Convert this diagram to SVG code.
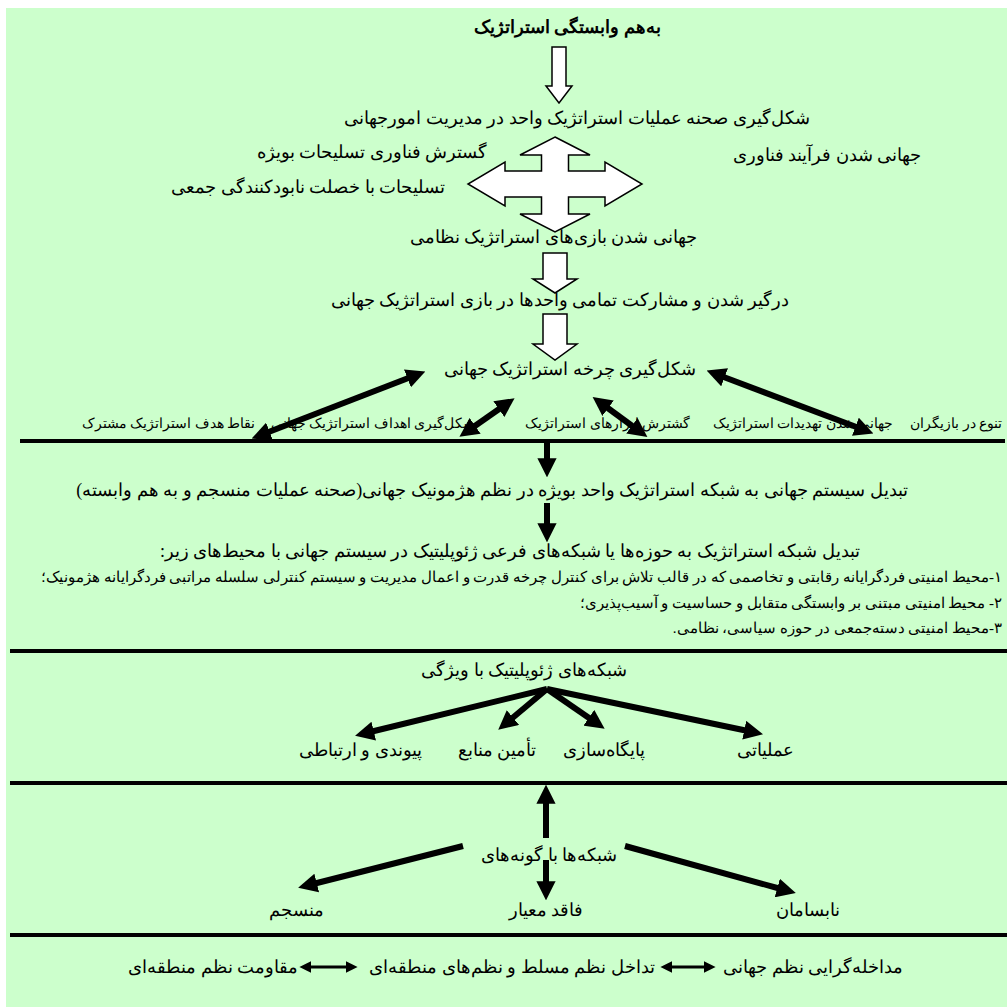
<svg xmlns="http://www.w3.org/2000/svg" width="1007" height="1007" viewBox="0 0 1007 1007">
<defs>
<style>
text{font-family:"Liberation Serif","DejaVu Serif",serif;fill:#000;direction:rtl}
.t{font-size:18px;text-anchor:middle}
.b{font-size:18px;font-weight:bold;text-anchor:middle}
.s{font-size:14px;text-anchor:start}
.l{font-size:15px;text-anchor:start}
.sep{stroke:#000;stroke-width:4}
.hol{fill:#fff;stroke:#000;stroke-width:1.5}
.ar{stroke:#000;stroke-width:6;fill:none}
.ar2{stroke:#000;stroke-width:3;fill:none}
</style>
<marker id="h" viewBox="0 0 10 10" refX="2" refY="5" markerWidth="3.2" markerHeight="3.2" orient="auto-start-reverse" markerUnits="strokeWidth"><path d="M0,0 L10,5 L0,10 z" fill="#000"/></marker>
<marker id="hs" viewBox="0 0 10 10" refX="2" refY="5" markerWidth="4" markerHeight="4" orient="auto-start-reverse" markerUnits="strokeWidth"><path d="M0,0 L10,5 L0,10 z" fill="#000"/></marker>
</defs>
<rect x="6" y="8" width="1001" height="999" fill="#ccffcc"/>

<g id="separators">
<line class="sep" x1="20" y1="441" x2="1005" y2="441"/>
<line class="sep" x1="10" y1="651" x2="1007" y2="651"/>
<line class="sep" x1="10" y1="783" x2="1007" y2="783"/>
<line class="sep" x1="10" y1="935" x2="1007" y2="935"/>
</g>

<g id="connectors">
<polygon class="hol" points="552,47 566,47 566,86 572,86 559,103 546,86 552,86"/>
<polygon class="hol" points="555,137 590,155 568.5,155 568.5,171 605,171 605,162 642,184 605,206 605,197 568.5,197 568.5,214 590,214 555,232 520,214 541.5,214 541.5,197 505,197 505,206 468,184 505,162 505,171 541.5,171 541.5,155 520,155"/>
<polygon class="hol" points="543,253 567,253 567,279 577,279 555,293 533,279 543,279"/>
<polygon class="hol" points="543,314 567,314 567,344 577,344 555,360 533,344 543,344"/>
<line class="ar" x1="266" y1="433" x2="411" y2="377" marker-start="url(#h)" marker-end="url(#h)"/>
<line class="ar" x1="472" y1="428" x2="502" y2="407" marker-start="url(#h)" marker-end="url(#h)"/>
<line class="ar" x1="605" y1="406" x2="635" y2="428" marker-start="url(#h)" marker-end="url(#h)"/>
<line class="ar" x1="721" y1="376" x2="859" y2="428" marker-start="url(#h)" marker-end="url(#h)"/>
<line class="ar" x1="547" y1="443" x2="547" y2="462" marker-end="url(#h)"/>
<line class="ar" x1="547" y1="503" x2="547" y2="527" marker-end="url(#h)"/>
<line class="ar" x1="547" y1="689" x2="370" y2="732" marker-end="url(#h)"/>
<line class="ar" x1="547" y1="689" x2="510" y2="720" marker-end="url(#h)"/>
<line class="ar" x1="547" y1="689" x2="592" y2="720" marker-end="url(#h)"/>
<line class="ar" x1="547" y1="689" x2="748" y2="731" marker-end="url(#h)"/>
<line class="ar" x1="546" y1="838" x2="546" y2="800" marker-end="url(#h)"/>
<line class="ar" x1="463" y1="846" x2="313" y2="884" marker-end="url(#h)"/>
<line class="ar" x1="546" y1="860" x2="546" y2="885" marker-end="url(#h)"/>
<line class="ar" x1="625" y1="846" x2="781" y2="889" marker-end="url(#h)"/>
<line class="ar2" x1="670" y1="967" x2="706" y2="967" marker-start="url(#hs)" marker-end="url(#hs)"/>
<line class="ar2" x1="309" y1="967" x2="348" y2="967" marker-start="url(#hs)" marker-end="url(#hs)"/>
</g>

<g id="n-title"><text class="b" x="567" y="33">به&#8204;هم وابستگی استراتژیک</text></g>
<g id="n-scene"><text class="t" x="577" y="124">شکل&#8204;گیری صحنه عملیات استراتژیک واحد در مدیریت امورجهانی</text></g>
<g id="n-weapons-tech"><text class="t" x="372" y="158">گسترش فناوری تسلیحات بویژه</text></g>
<g id="n-tech-global"><text class="t" x="827" y="161">جهانی شدن فرآیند فناوری</text></g>
<g id="n-wmd"><text class="t" x="308" y="193">تسلیحات با  خصلت نابودکنندگی جمعی</text></g>
<g id="n-games"><text class="t" x="553" y="243">جهانی شدن بازی&#8204;های استراتژیک نظامی</text></g>
<g id="n-involve"><text class="t" x="560" y="306">درگیر شدن و مشارکت تمامی واحدها در بازی استراتژیک جهانی</text></g>
<g id="n-cycle"><text class="t" x="570" y="375">شکل&#8204;گیری چرخه استراتژیک جهانی</text></g>
<g id="n-row1">
<text class="s" x="1002" y="428">تنوع در بازیگران</text>
<text class="s" x="893" y="428">جهانی شدن تهدیدات استراتژیک</text>
<text class="s" x="690" y="428">گشترش ابزارهای استراتژیک</text>
<text class="s" x="475" y="428">شکل&#8204;گیری اهداف استراتژیک جهانی</text>
<text class="s" x="255" y="428">نقاط هدف استراتژیک مشترک</text>
</g>
<g id="n-system"><text class="t" x="492" y="496">تبدیل سیستم جهانی به شبکه استراتژیک واحد بویژه در نظم هژمونیک جهانی(صحنه عملیات منسجم و به هم وابسته)</text></g>
<g id="n-subnets">
<text class="t" x="510" y="557">تبدیل شبکه استراتژیک به حوزه&#8204;ها یا شبکه&#8204;های فرعی ژئوپلیتیک در سیستم جهانی با محیط&#8204;های زیر:</text>
<text class="l" x="1002" y="582">۱-محیط امنیتی فردگرایانه رقابتی و تخاصمی که در قالب تلاش برای کنترل چرخه قدرت و اعمال مدیریت و سیستم کنترلی سلسله مراتبی فردگرایانه هژمونیک؛</text>
<text class="l" x="1002" y="608">۲- محیط امنیتی مبتنی بر وابستگی متقابل و حساسیت و آسیب&#8204;پذیری؛</text>
<text class="l" x="1002" y="633">۳-محیط امنیتی دسته&#8204;جمعی در حوزه سیاسی، نظامی.</text>
</g>
<g id="n-geo"><text class="t" x="524" y="676">شبکه&#8204;های ژئوپلیتیک با ویژگی</text></g>
<g id="n-link"><text class="t" x="360" y="756">پیوندی و ارتباطی</text></g>
<g id="n-supply"><text class="t" x="497" y="756">تأمین منابع</text></g>
<g id="n-base"><text class="t" x="604" y="756">پایگاه&#8204;سازی</text></g>
<g id="n-ops"><text class="t" x="765" y="756">عملیاتی</text></g>
<g id="n-types"><text class="t" x="549" y="861">شبکه&#8204;ها با گونه&#8204;های</text></g>
<g id="n-coherent"><text class="t" x="296" y="916">منسجم</text></g>
<g id="n-nostd"><text class="t" x="546" y="916">فاقد معیار</text></g>
<g id="n-disorder"><text class="t" x="808" y="916">نابسامان</text></g>
<g id="n-interv"><text class="t" x="813" y="973">مداخله&#8204;گرایی نظم جهانی</text></g>
<g id="n-overlap"><text class="t" x="512" y="973">تداخل نظم مسلط و نظم&#8204;های منطقه&#8204;ای</text></g>
<g id="n-resist"><text class="t" x="213" y="973">مقاومت نظم منطقه&#8204;ای</text></g>
</svg>
